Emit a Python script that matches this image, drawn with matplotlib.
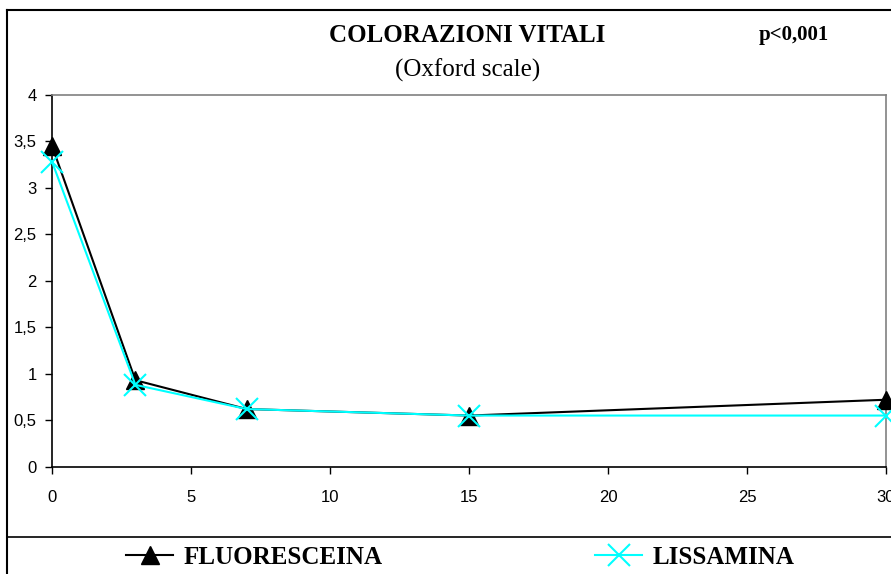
import matplotlib.pyplot as plt
from matplotlib.lines import Line2D

# giorni di follow-up
giorni = [0, 3, 7, 15, 30]
fluoresceina = [3.45, 0.93, 0.62, 0.55, 0.72]
lissamina = [3.28, 0.88, 0.62, 0.55, 0.55]

y_ticks = [0, 0.5, 1, 1.5, 2, 2.5, 3, 3.5, 4]
y_labels = ['0', '0,5', '1', '1,5', '2', '2,5', '3', '3,5', '4']
x_ticks = [0, 5, 10, 15, 20, 25, 30]

W, H = 891, 574
fig = plt.figure(figsize=(W / 100, H / 100), dpi=100)
ax = fig.add_axes([52 / W, 1 - 466.7 / H, (886 - 52) / W, (466.7 - 94.7) / H])

l1, = ax.plot(giorni, fluoresceina, color='black', lw=1.5, marker='^',
              markersize=13, markerfacecolor='black', clip_on=False, zorder=3)
l2, = ax.plot(giorni, lissamina, color='#00ffff', lw=1.5, marker='x',
              markersize=16, markeredgewidth=1.5, clip_on=False, zorder=4)

ax.set_xlim(0, 30)
ax.set_ylim(0, 4)
ax.set_xticks(x_ticks)
ax.set_yticks(y_ticks)
ax.set_yticklabels(y_labels)
for lab in ax.get_xticklabels() + ax.get_yticklabels():
    lab.set_family('Liberation Sans')
    lab.set_fontsize(12)
ax.tick_params(direction='out', length=5, width=1, colors='black')
ax.tick_params(axis='x', pad=12)
ax.tick_params(axis='y', pad=6)
ax.spines['left'].set_color('black')
ax.spines['bottom'].set_color('black')
ax.spines['top'].set_color('#808080')
ax.spines['right'].set_color('#808080')
for s in ax.spines.values():
    s.set_linewidth(1.2)

# titoli
fig.text(467 / W, 1 - 35 / H, 'COLORAZIONI VITALI', ha='center', va='center',
         family='Liberation Serif', weight='bold', fontsize=18)
fig.text(468 / W, 1 - 70 / H, '(Oxford scale)', ha='center', va='center',
         family='Liberation Serif', fontsize=18)
fig.text(794 / W, 1 - 35 / H, 'p<0,001', ha='center', va='center',
         family='Liberation Serif', weight='bold', fontsize=15)

# cornice esterna e separatore legenda
fig.add_artist(Line2D([7 / W, 1], [1 - 10 / H, 1 - 10 / H], color='black', lw=1.5))
fig.add_artist(Line2D([7 / W, 7 / W], [1 - 10 / H, 0], color='black', lw=1.5))
fig.add_artist(Line2D([7 / W, 1], [1 - 537 / H, 1 - 537 / H], color='black', lw=1.2))

fig.legend([l1, l2], ['FLUORESCEINA', 'LISSAMINA'], loc='center',
           bbox_to_anchor=(460 / W, 1 - 557 / H), ncol=2, frameon=False,
           prop={'family': 'Liberation Serif', 'weight': 'bold', 'size': 18},
           handlelength=1.9, handletextpad=0.4, columnspacing=8.5, borderpad=0)

fig.savefig('out.png', dpi=100)
